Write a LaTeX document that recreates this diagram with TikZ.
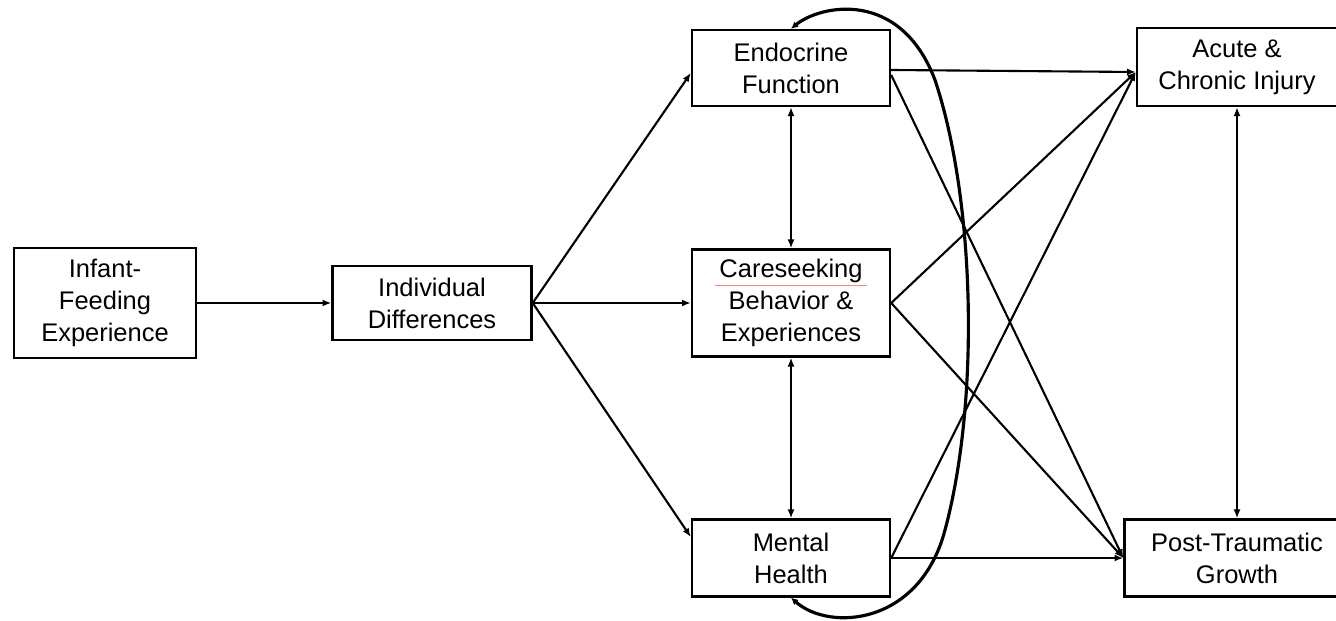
\documentclass[tikz,border=0pt]{standalone}
\usepackage{fontspec}
\setmainfont{Liberation Sans}
\usetikzlibrary{arrows.meta,calc}

\begin{document}
\begin{tikzpicture}[x=0.02cm,y=-0.02cm,
	box/.style={draw,line width=1.4pt,align=center,inner sep=2pt,font=\fontsize{14.5}{18.2}\selectfont},
	arr/.style={line width=1.2pt,-{Latex[length=5pt,width=4pt]}},
	darr/.style={line width=1.2pt,{Latex[length=5pt,width=4pt]}-{Latex[length=5pt,width=4pt]}}]
				\useasboundingbox (0,0) rectangle (1336,621);
				\node[box,minimum width=3.64cm,minimum height=2.2cm] (infant) at (105,303) {Infant-\\Feeding\\Experience};
				\node[box,minimum width=3.98cm,minimum height=1.48cm] (indiv) at (432,303) {Individual\\Differences};
				\node[box,minimum width=3.96cm,minimum height=1.52cm] (endo) at (791,68) {Endocrine\\Function};
				\node[box,minimum width=3.96cm,minimum height=2.14cm] (care) at (791,303) {Careseeking\\Behavior \&\\Experiences};
				\node[box,minimum width=3.96cm,minimum height=1.54cm] (mental) at (791,558) {Mental\\Health};
				\node[box,minimum width=4.0cm,minimum height=1.56cm] (injury) at (1237,67) {Acute \&\\Chronic Injury};
				\node[box,minimum width=4.5cm,minimum height=1.54cm] (growth) at (1237,558) {Post-Traumatic\\Growth};
				% spell check mark under Careseeking
				\draw[red!80,line width=0.5pt,opacity=0.6] (715,285) -- (867,285);
				\draw[arr] (infant) -- (indiv);
				\draw[arr] (indiv.east) -- ($(endo.west)+(0,5)$);
				\draw[arr] (indiv.east) -- (care.west);
				\draw[arr] (indiv.east) -- ($(mental.west)+(0,-21)$);
				\draw[darr] (endo) -- (care);
				\draw[darr] (care) -- (mental);
				\draw[darr] (injury) -- (growth);
				\draw[arr] ($(endo.east)+(0,2)$) -- ($(injury.west)+(0,5)$);
				\draw[arr] ($(endo.east)+(0,7)$) -- (growth.west);
				\draw[arr] (care.east) -- ($(injury.west)+(0,5)$);
				\draw[arr] (care.east) -- (growth.west);
				\draw[arr] (mental.east) -- ($(injury.west)+(0,5)$);
				\draw[arr] (mental.east) -- (growth.west);
				\draw[line width=1.8pt,{Latex[length=4pt,width=4pt]}-{Latex[length=4pt,width=4pt]}] (mental.south) .. controls (830,632) and (920,625) .. (945,530) .. controls (980,400) and (975,200) .. (935,80) .. controls (900,-12) and (820,5) .. (endo.north);
			\end{tikzpicture}
\end{document}
